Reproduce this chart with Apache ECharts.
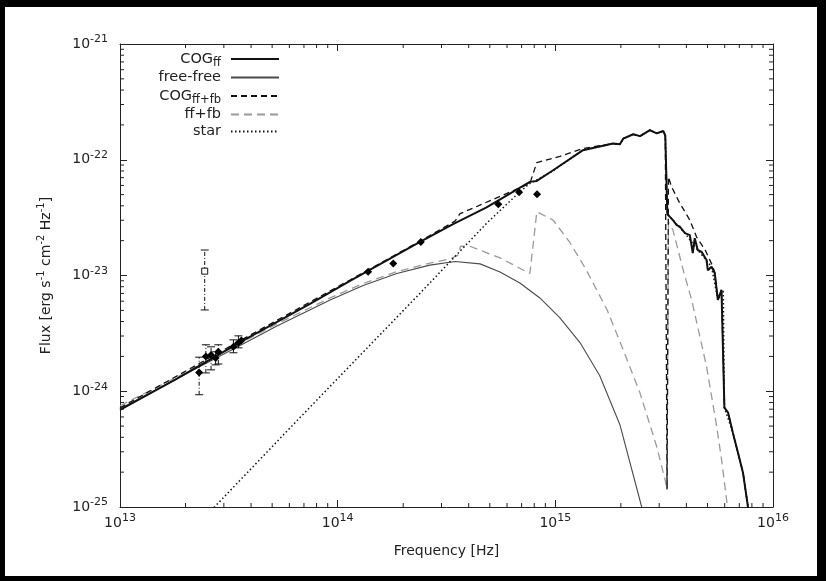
<!DOCTYPE html>
<html><head><meta charset="utf-8">
<script src="https://cdn.jsdelivr.net/npm/echarts@6/dist/echarts.min.js"></script>
<style>
html,body{margin:0;padding:0;background:#000;width:826px;height:581px;overflow:hidden}
#paper{position:absolute;left:5px;top:7px;width:812px;height:569px;background:#fff}
#chart{position:absolute;left:0;top:0;width:826px;height:581px}
</style></head><body><div id="paper"></div><div id="chart"></div>
<script>
// ---------- axis ranges & tick labels ----------
// flux is plotted in units of 1e-25 erg s^-1 cm^-2 Hz^-1 (avoids float rounding of tiny numbers)
const FLUX_UNIT = 1e-25;
const X_MIN = 1e13, X_MAX = 1e16, Y_MIN = 1, Y_MAX = 1e4;
const xTickValues = [1e13, 1e14, 1e15, 1e16];
const xTickSup = ['13', '14', '15', '16'];
const yTickValues = [1, 10, 100, 1000, 10000];
const yTickSup = ['-25', '-24', '-23', '-22', '-21'];
const minorMultipliers = [2, 3, 4, 5, 6, 7, 8, 9];
const xDecades = [1e13, 1e14, 1e15];
const yDecades = [1, 10, 100, 1000];

// ---------- series names ----------
const seriesNames = ['COGff', 'free-free', 'COGff+fb', 'ff+fb', 'star'];

// ---------- model curves [frequency Hz, flux erg/s/cm2/Hz] ----------
const cogFF = [
  [1.00e13, 6.92e-25], [1.82e13, 1.28e-24], [3.67e13, 2.74e-24], [7.46e13, 5.68e-24],
  [1.14e14, 9.00e-24], [2.39e14, 1.95e-23], [3.39e14, 2.78e-23], [4.83e14, 3.87e-23],
  [7.64e14, 6.44e-23], [8.22e14, 6.56e-23], [9.77e14, 8.11e-23], [1.34e15, 1.21e-22],
  [1.84e15, 1.38e-22], [1.98e15, 1.36e-22], [2.05e15, 1.52e-22], [2.28e15, 1.66e-22],
  [2.45e15, 1.60e-22], [2.72e15, 1.80e-22], [2.92e15, 1.69e-22], [3.13e15, 1.77e-22],
  [3.20e15, 1.62e-22], [3.27e15, 3.40e-23], [3.36e15, 3.21e-23], [3.47e15, 3.01e-23],
  [3.61e15, 2.72e-23], [3.73e15, 2.64e-23], [3.94e15, 2.32e-23], [4.15e15, 2.23e-23],
  [4.28e15, 1.56e-23], [4.37e15, 2.10e-23], [4.51e15, 1.66e-23], [4.70e15, 1.60e-23],
  [4.95e15, 1.36e-23], [5.02e15, 1.11e-23], [5.22e15, 1.19e-23], [5.40e15, 1.05e-23],
  [5.58e15, 6.15e-24], [5.80e15, 7.50e-24], [5.91e15, 7.35e-24], [5.98e15, 7.21e-25],
  [6.22e15, 6.53e-25], [6.54e15, 4.39e-25], [6.90e15, 2.95e-25], [7.28e15, 1.98e-25],
  [7.67e15, 1.01e-25], [8.00e15, 6.40e-26]
];
const freeFree = [
  [1.00e13, 7.06e-25], [1.82e13, 1.28e-24], [3.67e13, 2.56e-24], [5.26e13, 3.67e-24],
  [9.23e13, 6.15e-24], [1.31e14, 8.20e-24], [1.87e14, 1.04e-23], [2.65e14, 1.23e-23],
  [3.46e14, 1.32e-23], [4.51e14, 1.26e-23], [5.57e14, 1.07e-23], [6.87e14, 8.61e-24],
  [8.49e14, 6.40e-24], [1.05e15, 4.30e-24], [1.30e15, 2.62e-24], [1.60e15, 1.36e-24],
  [1.98e15, 5.14e-25], [2.49e15, 1.01e-25], [2.58e15, 7.80e-26]
];
const cogFFFB = [
  [1.00e13, 7.20e-25], [3.67e13, 2.82e-24], [1.14e14, 9.15e-24], [2.39e14, 1.98e-23],
  [3.46e14, 2.95e-23], [3.65e14, 3.42e-23], [7.64e14, 6.24e-23], [8.22e14, 9.46e-23],
  [1.05e15, 1.07e-22], [1.34e15, 1.25e-22], [1.84e15, 1.38e-22], [1.98e15, 1.36e-22],
  [2.05e15, 1.52e-22], [2.28e15, 1.66e-22], [2.45e15, 1.60e-22], [2.72e15, 1.80e-22],
  [2.92e15, 1.69e-22], [3.13e15, 1.77e-22], [3.20e15, 1.62e-22], [3.26e15, 1.42e-25],
  [3.31e15, 7.11e-23], [3.42e15, 5.83e-23], [3.73e15, 4.22e-23], [4.15e15, 3.01e-23],
  [4.45e15, 2.16e-23], [4.88e15, 1.66e-23], [5.30e15, 1.19e-23], [5.40e15, 1.05e-23],
  [5.58e15, 6.15e-24], [5.80e15, 7.50e-24], [5.91e15, 7.35e-24], [5.98e15, 7.21e-25],
  [6.22e15, 6.53e-25], [6.54e15, 4.39e-25], [6.90e15, 2.95e-25], [7.28e15, 1.98e-25],
  [7.67e15, 1.01e-25], [8.00e15, 6.40e-26]
];
const ffFB = [
  [1.00e13, 7.50e-25], [1.82e13, 1.32e-24], [3.67e13, 2.67e-24], [5.26e13, 3.82e-24],
  [9.23e13, 6.40e-24], [1.31e14, 8.53e-24], [1.87e14, 1.08e-23], [2.65e14, 1.28e-23],
  [3.28e14, 1.39e-23], [3.57e14, 1.50e-23], [3.67e14, 1.79e-23], [4.05e14, 1.79e-23],
  [5.57e14, 1.42e-23], [7.64e14, 1.04e-23], [8.22e14, 3.55e-23], [9.77e14, 3.01e-23],
  [1.17e15, 1.91e-23], [1.39e15, 1.11e-23], [1.73e15, 5.04e-24], [2.05e15, 2.28e-24],
  [2.45e15, 9.64e-25], [2.92e15, 3.34e-25], [3.19e15, 1.73e-25], [3.26e15, 1.42e-25],
  [3.31e15, 2.89e-23], [3.47e15, 2.47e-23], [3.87e15, 1.11e-23], [4.23e15, 6.15e-24],
  [4.95e15, 1.64e-24], [5.51e15, 4.98e-25], [5.82e15, 2.47e-25], [6.17e15, 1.02e-25],
  [6.28e15, 7.80e-26]
];
const star = [
  [2.33e13, 7.46e-26], [2.73e13, 1.01e-25], [6.71e13, 5.92e-25], [2.39e14, 7.03e-24],
  [4.83e14, 2.82e-23], [6.87e14, 5.28e-23], [7.64e14, 6.24e-23], [8.49e14, 6.93e-23],
  [9.77e14, 8.03e-23], [1.34e15, 1.21e-22], [1.84e15, 1.38e-22], [1.98e15, 1.36e-22],
  [2.05e15, 1.52e-22], [2.28e15, 1.66e-22], [2.45e15, 1.60e-22], [2.72e15, 1.80e-22],
  [2.92e15, 1.69e-22], [3.13e15, 1.77e-22], [3.20e15, 1.62e-22], [3.27e15, 3.40e-23],
  [3.47e15, 3.01e-23], [3.94e15, 2.32e-23], [4.51e15, 1.66e-23], [5.22e15, 1.19e-23],
  [5.58e15, 6.15e-24], [5.91e15, 7.35e-24], [5.98e15, 7.21e-25], [6.54e15, 4.39e-25],
  [7.28e15, 1.98e-25], [7.67e15, 1.01e-25], [8.00e15, 6.40e-26]
];

// ---------- observed photometry ----------
const obsPoints = [
  [2.31e13, 1.45e-24], [2.48e13, 2.00e-24], [2.62e13, 2.06e-24], [2.75e13, 1.94e-24],
  [2.83e13, 2.19e-24], [3.32e13, 2.42e-24], [3.50e13, 2.62e-24], [3.61e13, 2.75e-24],
  [1.38e14, 1.08e-23], [1.80e14, 1.27e-23], [2.41e14, 1.95e-23], [5.47e14, 4.13e-23],
  [6.82e14, 5.25e-23], [8.24e14, 5.04e-23]
];
// [frequency, lower, upper]
const obsErrors = [
  [2.31e13, 9.33e-25, 1.97e-24], [2.48e13, 1.44e-24, 2.52e-24], [2.62e13, 1.53e-24, 2.42e-24],
  [2.75e13, 1.69e-24, 2.19e-24], [2.83e13, 1.72e-24, 2.52e-24], [3.32e13, 2.15e-24, 2.78e-24],
  [3.50e13, 2.37e-24, 3.01e-24]
];
const openPoint = [[2.45e13, 1.09e-23]];
const openError = [[2.45e13, 5.04e-24, 1.66e-23]];

// ---------- helpers ----------
const FONT = 'DejaVu Sans';
const INK = '#222';
const inUnit = arr => arr.map(p => [p[0]].concat(p.slice(1).map(f => f / FLUX_UNIT)));

function supLabel(values, sups) {
  return function (v) {
    let best = 0, bd = Infinity;
    values.forEach((t, i) => { const d = Math.abs(Math.log10(t) - Math.log10(v)); if (d < bd) { bd = d; best = i; } });
    return '{b|10}{s|' + sups[best] + '}';
  };
}
const labelRich = {
  b: { fontFamily: FONT, fontSize: 14, color: INK, lineHeight: 20 },
  s: { fontFamily: FONT, fontSize: 11, color: INK, lineHeight: 11, padding: [0, 0, 9, 0] }
};
const xMinor = [], yMinor = [];
xDecades.forEach(d => minorMultipliers.forEach(m => xMinor.push([d * m, Y_MIN])));
yDecades.forEach(d => minorMultipliers.forEach(m => yMinor.push([X_MIN, d * m])));

function minorX(params, api) {
  const v = api.value(0);
  const b = api.coord([v, Y_MIN]), t = api.coord([v, Y_MAX]);
  const st = { stroke: INK, lineWidth: 1 };
  return { type: 'group', children: [
    { type: 'line', shape: { x1: b[0], y1: b[1], x2: b[0], y2: b[1] - 4 }, style: st },
    { type: 'line', shape: { x1: t[0], y1: t[1], x2: t[0], y2: t[1] + 4 }, style: st }
  ] };
}
function minorY(params, api) {
  const v = api.value(1);
  const l = api.coord([X_MIN, v]), r = api.coord([X_MAX, v]);
  const st = { stroke: INK, lineWidth: 1 };
  return { type: 'group', children: [
    { type: 'line', shape: { x1: l[0], y1: l[1], x2: l[0] + 4, y2: l[1] }, style: st },
    { type: 'line', shape: { x1: r[0], y1: r[1], x2: r[0] - 4, y2: r[1] }, style: st }
  ] };
}
function errBar(params, api) {
  const x = api.value(0), lo = api.value(1), hi = api.value(2);
  const a = api.coord([x, lo]), b = api.coord([x, hi]);
  const cap = { stroke: '#111', lineWidth: 1 };
  return { type: 'group', children: [
    { type: 'line', shape: { x1: a[0], y1: a[1], x2: b[0], y2: b[1] }, style: { stroke: '#111', lineWidth: 1, lineDash: [4, 2, 1, 2] } },
    { type: 'line', shape: { x1: a[0] - 4, y1: a[1], x2: a[0] + 4, y2: a[1] }, style: cap },
    { type: 'line', shape: { x1: b[0] - 4, y1: b[1], x2: b[0] + 4, y2: b[1] }, style: cap }
  ] };
}

function logAxis(pos, min, max, withLabel, fmt) {
  return {
    type: 'log', logBase: 10, min: min, max: max, position: pos,
    axisLine: { show: true, lineStyle: { color: INK, width: 1 } },
    axisTick: { show: true, inside: true, length: 7, lineStyle: { color: INK, width: 1 } },
    splitLine: { show: false },
    axisLabel: withLabel ? { show: true, formatter: fmt, rich: labelRich, showMinLabel: true, showMaxLabel: true } : { show: false }
  };
}

const xBottom = logAxis('bottom', X_MIN, X_MAX, true, supLabel(xTickValues, xTickSup));
xBottom.axisLabel.margin = 6;
xBottom.name = 'Frequency [Hz]';
xBottom.nameLocation = 'middle';
xBottom.nameGap = 37;
xBottom.nameTextStyle = { fontFamily: FONT, fontSize: 14, color: INK };
const xTop = logAxis('top', X_MIN, X_MAX, false);

const yLeft = logAxis('left', Y_MIN, Y_MAX, true, supLabel(yTickValues, yTickSup));
yLeft.axisLabel.margin = 12;
yLeft.name = 'Flux [erg s{s|-1} cm{s|-2} Hz{s|-1}]';
yLeft.nameLocation = 'middle';
yLeft.nameGap = 64;
yLeft.nameTextStyle = {
  fontFamily: FONT, fontSize: 14, color: INK, lineHeight: 20,
  rich: { s: { fontFamily: FONT, fontSize: 10, color: INK, lineHeight: 10, padding: [0, 0, 9, 0] } }
};
const yRight = logAxis('right', Y_MIN, Y_MAX, false);

const legendLabels = {
  'COGff': 'COG{sub|ff}', 'free-free': 'free-free', 'COGff+fb': 'COG{sub|ff+fb}', 'ff+fb': 'ff+fb', 'star': 'star'
};

const chart = echarts.init(document.getElementById('chart'));
chart.setOption({
  animation: false,
  grid: { left: 120, right: 53, top: 44, bottom: 74, outerBoundsMode: 'none' },
  xAxis: [xBottom, xTop],
  yAxis: [yLeft, yRight],
  legend: {
    data: seriesNames, orient: 'vertical', align: 'right', right: 546, top: 49,
    padding: 0, itemGap: 0, itemWidth: 48, itemHeight: 17, selectedMode: false,
    itemStyle: { opacity: 0 },
    formatter: n => legendLabels[n],
    textStyle: {
      fontFamily: FONT, fontSize: 14.5, color: INK, lineHeight: 17, padding: [0, 5, 0, 0],
      rich: { sub: { fontFamily: FONT, fontSize: 11.5, color: INK, lineHeight: 9, padding: [8, 0, 0, 0] } }
    }
  },
  series: [
    { name: 'free-free', type: 'line', data: inUnit(freeFree), symbol: 'none', showSymbol: false, z: 3,
      lineStyle: { color: '#4a4a4a', width: 1.1 }, itemStyle: { color: '#4a4a4a' } },
    { name: 'ff+fb', type: 'line', data: inUnit(ffFB), symbol: 'none', showSymbol: false, z: 3,
      lineStyle: { color: '#9a9a9a', width: 1.3, type: [8, 5] }, itemStyle: { color: '#9a9a9a' } },
    { name: 'star', type: 'line', data: inUnit(star), symbol: 'none', showSymbol: false, z: 4,
      lineStyle: { color: '#111', width: 1.5, type: [1.5, 2.5] }, itemStyle: { color: '#111' } },
    { name: 'COGff+fb', type: 'line', data: inUnit(cogFFFB), symbol: 'none', showSymbol: false, z: 5,
      lineStyle: { color: '#111', width: 1.3, type: [6, 4] }, itemStyle: { color: '#111' } },
    { name: 'COGff', type: 'line', data: inUnit(cogFF), symbol: 'none', showSymbol: false, z: 6,
      lineStyle: { color: '#111', width: 2 }, itemStyle: { color: '#111' } },
    { name: 'errors', type: 'custom', data: inUnit(obsErrors.concat(openError)), renderItem: errBar,
      encode: { x: 0, y: [1, 2] }, silent: true, z: 7, clip: false },
    { name: 'obs', type: 'scatter', data: inUnit(obsPoints), symbol: 'diamond', symbolSize: 8, z: 8,
      itemStyle: { color: '#000', opacity: 1 }, silent: true },
    { name: 'obsOpen', type: 'scatter', data: inUnit(openPoint), symbol: 'rect', symbolSize: 6, z: 8,
      itemStyle: { color: '#fff', borderColor: '#111', borderWidth: 1, opacity: 1 }, silent: true },
    { name: 'minorX', type: 'custom', data: xMinor, renderItem: minorX, encode: { x: 0, y: 1 },
      silent: true, clip: false, z: 9 },
    { name: 'minorY', type: 'custom', data: yMinor, renderItem: minorY, encode: { x: 0, y: 1 },
      silent: true, clip: false, z: 9 }
  ]
});
</script></body></html>
